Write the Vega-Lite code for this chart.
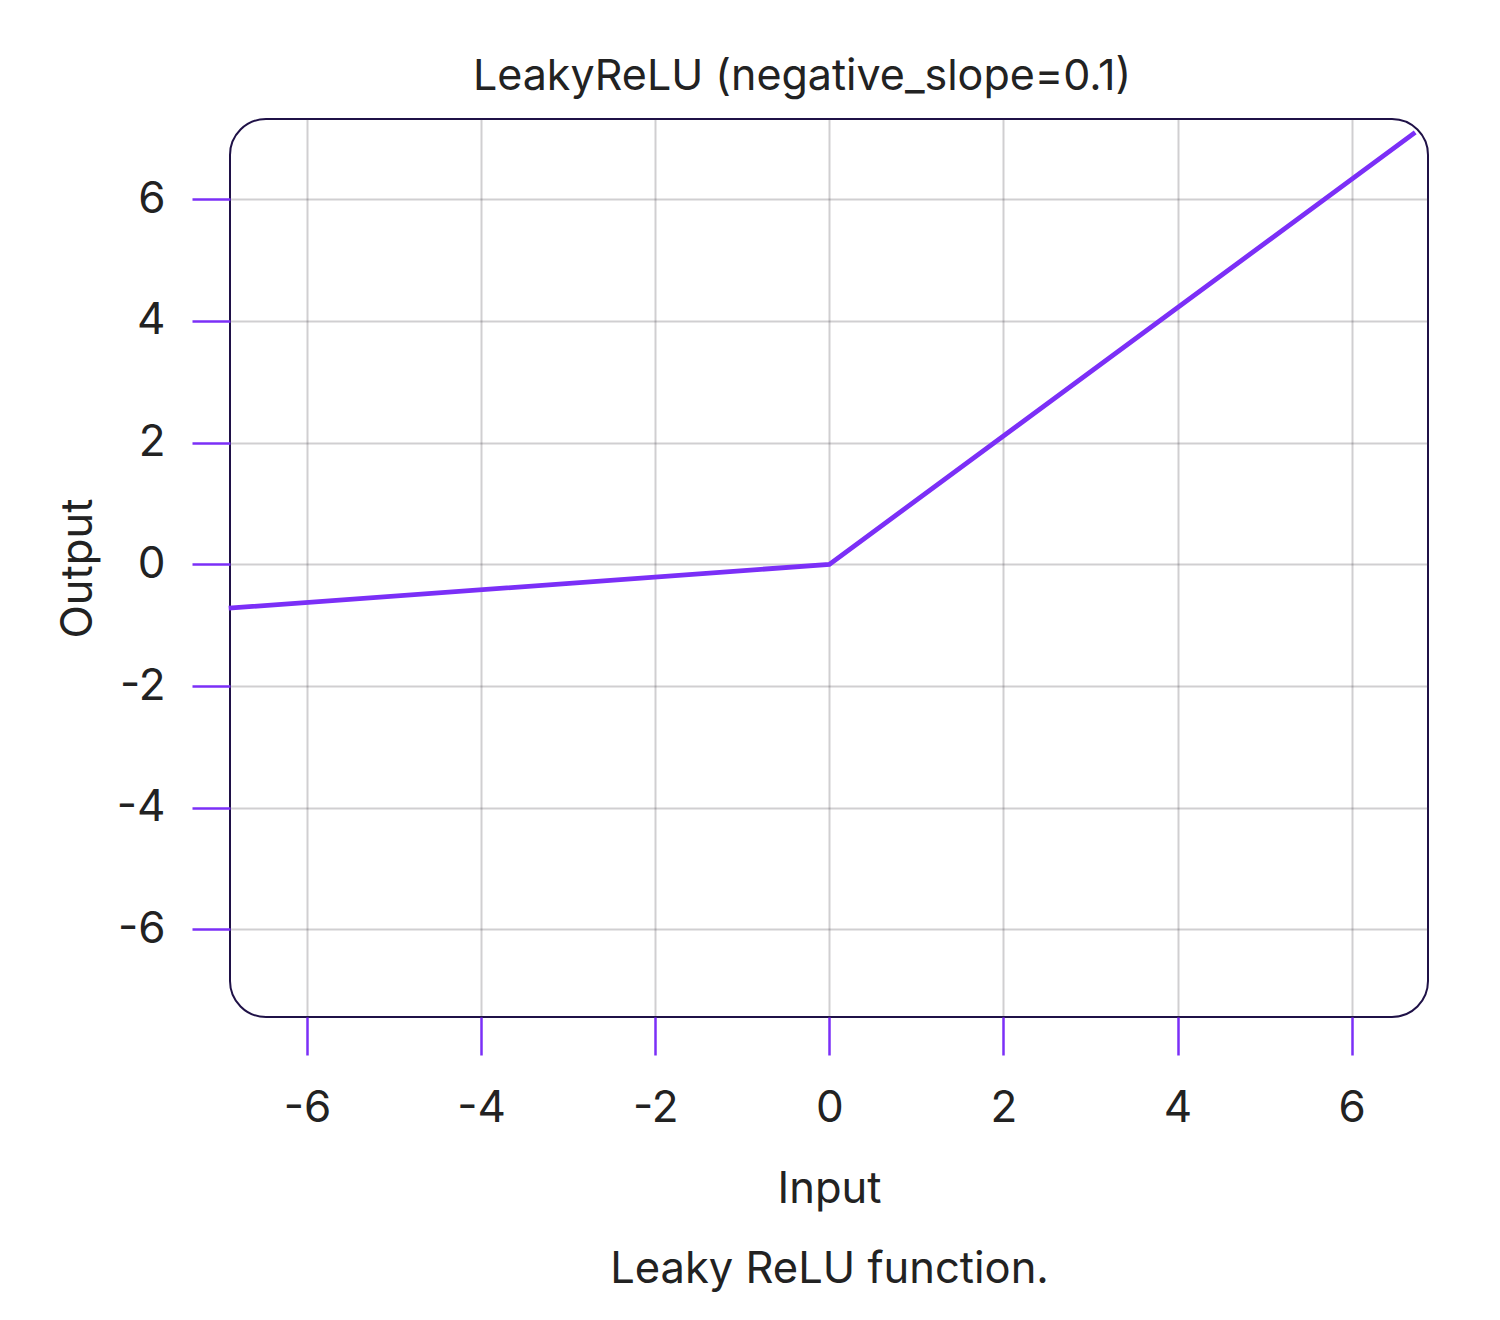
{
  "$schema": "https://vega.github.io/schema/vega-lite/v6.json",
  "autosize": "none",
  "width": 1198,
  "height": 898,
  "padding": {"left": 230, "top": 119, "right": 72, "bottom": 303},
  "background": "white",
  "title": {
    "text": "LeakyReLU (negative_slope=0.1)",
    "font": "Inter",
    "fontSize": 43,
    "fontWeight": "normal",
    "color": "#222222",
    "offset": 20,
    "dx": -27
  },
  "data": {
    "values": [
      {"input": -6.9, "output": -0.72},
      {"input": 0, "output": 0},
      {"input": 6.73, "output": 7.1}
    ]
  },
  "mark": {"type": "line", "color": "#7b2ff7", "strokeWidth": 4.8},
  "encoding": {
    "x": {
      "field": "input",
      "type": "quantitative",
      "scale": {"domain": [-6.885, 6.877], "nice": false, "zero": false},
      "axis": {
        "values": [-6, -4, -2, 0, 2, 4, 6],
        "title": ["Input", "Leaky ReLU function."],
        "titleLineHeight": 80,
        "titlePadding": 38,
        "labelPadding": 31
      }
    },
    "y": {
      "field": "output",
      "type": "quantitative",
      "scale": {"domain": [-7.44, 7.32], "nice": false, "zero": false},
      "axis": {
        "values": [-6, -4, -2, 0, 2, 4, 6],
        "title": "Output",
        "titlePadding": 16,
        "labelPadding": 27
      }
    }
  },
  "config": {
    "view": {"stroke": "#1f1147", "strokeWidth": 2, "cornerRadius": 36, "fill": "white"},
    "axis": {
      "domain": false,
      "grid": true,
      "gridColor": "#3a3540",
      "gridOpacity": 0.24,
      "gridWidth": 2,
      "tickColor": "#7b2ff7",
      "tickSize": 38,
      "tickWidth": 2.5,
      "labelExpr": "datum.value < 0 ? '-' + abs(datum.value) : '' + datum.value",
      "labelFont": "Inter",
      "labelFontSize": 44,
      "labelColor": "#222222",
      "titleFont": "Inter",
      "titleFontSize": 43.5,
      "titleFontWeight": "normal",
      "titleColor": "#222222",
      "labelFlush": false,
      "labelOverlap": false
    }
  }
}
